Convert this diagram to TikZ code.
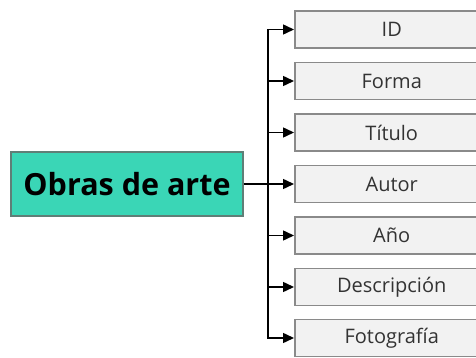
\documentclass[tikz,border=0pt]{standalone}
\usepackage{fontspec}
\setmainfont{Open Sans}
\usetikzlibrary{arrows.meta}
\definecolor{teal1}{HTML}{3AD6B6}
\definecolor{tealb}{HTML}{5F7F77}
\definecolor{boxf}{HTML}{F2F2F2}
\definecolor{boxb}{HTML}{8A8A8A}
\definecolor{txt}{HTML}{333333}
\tikzset{
  mainbox/.style={draw=tealb, line width=1.2pt, fill=teal1, minimum width=232pt, minimum height=64pt, inner sep=0pt, font=\fontsize{30.5}{34}\selectfont\bfseries, text=black},
  leaf/.style={draw=boxb, line width=1.5pt, fill=boxf, minimum width=194pt, minimum height=37pt, inner sep=0pt, anchor=west, text=txt, font=\fontsize{20}{24}\selectfont},
  conn/.style={line width=1.5pt, draw=black},
  arr/.style={conn, -{Triangle[length=11pt,width=10pt]}}
}
\begin{document}
\begin{tikzpicture}[x=1pt,y=-1pt]
\useasboundingbox (0,0) rectangle (476,358);
\clip (0,0) rectangle (476,358);
\node[mainbox] (main) at (127,184) {Obras de arte};
\node[leaf] (id) at (294,29.5) {ID};
\node[leaf] (forma) at (294,81) {Forma};
\node[leaf] (titulo) at (294,132.5) {Título};
\node[leaf] (autor) at (294,184) {Autor};
\node[leaf] (anio) at (294,235.5) {Año};
\node[leaf] (desc) at (294,287) {Descripción};
\node[leaf] (foto) at (294,338) {Fotografía};
\coordinate (bus) at (268,184);
\draw[conn] (main.east) -- (bus);
\foreach \n in {id,forma,titulo,autor,anio,desc,foto}{
  \draw[arr] (bus) |- (\n.west);
}
\end{tikzpicture}
\end{document}
